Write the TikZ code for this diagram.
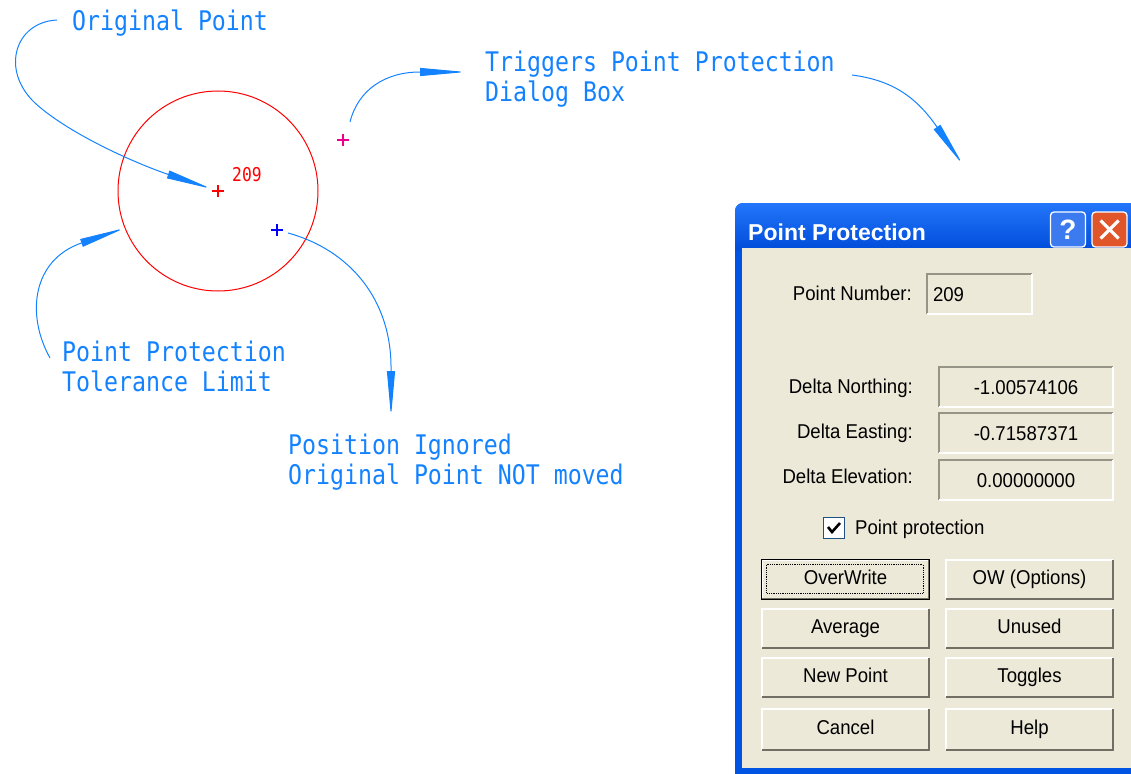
\documentclass[tikz,border=0pt]{standalone}
\usepackage{fontspec}
\usetikzlibrary{arrows.meta}
\newfontfamily\cadfont[FakeStretch=0.86]{DejaVu Sans Mono}
\newfontfamily\dlgfont[FakeStretch=0.93]{Liberation Sans}
\newfontfamily\titlefont{Liberation Sans}
\definecolor{cadblue}{RGB}{20,130,255}
\definecolor{dlgbg}{RGB}{236,233,216}
\definecolor{xpframe}{RGB}{0,84,227}
\definecolor{titletop}{RGB}{35,118,250}
\definecolor{titlebot}{RGB}{0,76,218}
\definecolor{helpblue}{RGB}{60,122,240}
\definecolor{closered}{RGB}{224,86,42}
\definecolor{fieldshadow}{RGB}{150,147,135}
\definecolor{btnshadow}{RGB}{113,111,100}
\definecolor{chkborder}{RGB}{28,81,128}

\begin{document}
\begin{tikzpicture}[x=1pt,y=-1pt,
  cadtext/.style={inner sep=0pt, text=cadblue, align=left,
    font=\cadfont\fontsize{27}{30}\selectfont},
  crossmark/.style={minimum size=12pt, inner sep=0pt,
    path picture={\draw[#1,line width=1.2pt]
      (path picture bounding box.north) -- (path picture bounding box.south)
      (path picture bounding box.west) -- (path picture bounding box.east);}},
  leader/.style={draw=cadblue, line width=1pt, -{Triangle[length=46pt,width=8pt]}},
  dlg/.style={inner sep=0pt, font=\dlgfont\fontsize{20}{24}\selectfont},
  field/.style={dlg, fill=dlgbg, minimum width=174pt, minimum height=40pt,
    text height=14pt, text depth=0pt},
  button/.style={dlg, fill=dlgbg, minimum width=167pt, minimum height=39pt,
    text height=14pt, text depth=4pt},
  capbtn/.style={draw=white, line width=1.3pt, rounded corners=3.5pt,
    minimum width=35pt, minimum height=35pt, inner sep=0pt}]
\useasboundingbox (0,0) rectangle (1131,773);

% drawing side
\node[crossmark=red] (orig) at (218,191) {};
\draw[red, line width=1pt] (orig) circle (100);
\node[inner sep=0pt, anchor=base west, text=red,
  font=\cadfont\fontsize{19}{22}\selectfont] (orig num) at (232,181) {209};
\node[crossmark=magenta] (trigger pt) at (343,140) {};
\node[crossmark=blue] (moved pt) at (277,230) {};

% two-line labels sit on their last baseline
\node[cadtext, anchor=base west] (orig label) at (72,31) {Original Point};
\node[cadtext, anchor=base west] (trig label) at (485,102) {Triggers Point Protection\\Dialog Box};
\node[cadtext, anchor=base west] (tol label) at (62,391) {Point Protection\\Tolerance Limit};
\node[cadtext, anchor=base west] (pos label) at (288,484) {Position Ignored\\Original Point NOT moved};

\coordinate (op start) at (57,20);
\coordinate (trig start) at (350,122);
\coordinate (trig tip) at (466,72);
\coordinate (dlg start) at (852,75);
\coordinate (dlg tip) at (963,165);
\coordinate (tol start) at (50,358);
\coordinate (tol tip) at (125,228);
\coordinate (pos start) at (288,233);
\coordinate (pos tip) at (391,417);

\draw[leader] (op start) .. controls (15,22) and (0,70) .. (35,103)
  .. controls (70,135) and (140,165) .. (orig);
\draw[leader] (trig start) .. controls (358,90) and (385,72) .. (420,72) -- (trig tip);
\draw[leader] (dlg start) .. controls (890,80) and (915,95) .. (dlg tip);
\draw[leader] (tol start) .. controls (26,315) and (32,260) .. (tol tip);
\draw[leader] (pos start) .. controls (350,250) and (392,300) .. (391,370) -- (pos tip);

% dialog window
\fill[xpframe, rounded corners=8pt] (735,790) -- (735,203) -- (1150,203) -- (1150,790) -- cycle;
\shade[top color=titletop, bottom color=titlebot] (735,250) [rounded corners=8pt]
  -- (735,203) -- (1150,203) [sharp corners] -- (1150,250) -- cycle;
\fill[dlgbg] (742,248) rectangle (1150,768);
\node[inner sep=0pt, anchor=base west, text=white,
  font=\titlefont\bfseries\fontsize{23}{26}\selectfont] (title) at (748,240) {Point Protection};
\node[capbtn, fill=helpblue, text=white,
  font=\titlefont\bfseries\fontsize{28}{30}\selectfont] (help btn) at (1068,229.5) {?};
\node[capbtn, fill=closered] (close btn) at (1109.5,229.5) {};
\draw[white, line width=3.2pt] ([shift={(-9,-9)}]close btn.center) -- ([shift={(9,9)}]close btn.center)
  ([shift={(-9,9)}]close btn.center) -- ([shift={(9,-9)}]close btn.center);

% fields
\node[dlg, anchor=base east] (num label) at (912,300) {Point Number:};
\node[field, minimum width=105pt, text width=93pt, align=left] (num box) at (979.5,294) {209};
\node[dlg, anchor=base east] (north label) at (913,393) {Delta Northing:};
\node[field] (north box) at (1026,387) {-1.00574106};
\node[dlg, anchor=base east] (east label) at (913,438) {Delta Easting:};
\node[field] (east box) at (1026,433) {-0.71587371};
\node[dlg, anchor=base east] (elev label) at (913,483) {Delta Elevation:};
\node[field] (elev box) at (1026,480) {0.00000000};
\foreach \f in {num box, north box, east box, elev box}{
  \draw[fieldshadow, line width=2pt] (\f.south west) |- (\f.north east);
  \draw[white, line width=1.5pt] (\f.south west) -| (\f.north east);
}

% check box
\node[draw=chkborder, fill=white, minimum size=21pt, inner sep=0pt] (chk) at (834,528) {};
\draw[line width=2.6pt] ([shift={(-6,-1)}]chk.center) -- ([shift={(-2,4)}]chk.center)
  -- ([shift={(6,-5)}]chk.center);
\node[dlg, anchor=base west] (chk label) at (855,534) {Point protection};

% buttons
\node[button] (overwrite) at (845.5,579.5) {OverWrite};
\node[button] (ow options) at (1029.5,579.5) {OW (Options)};
\node[button] (average) at (845.5,628.5) {Average};
\node[button] (unused) at (1029.5,628.5) {Unused};
\node[button] (new point) at (845.5,677.5) {New Point};
\node[button] (toggles) at (1029.5,677.5) {Toggles};
\node[button, minimum height=41pt] (cancel) at (845.5,729.5) {Cancel};
\node[button, minimum height=41pt] (help) at (1029.5,729.5) {Help};
\foreach \b in {overwrite, ow options, average, unused, new point, toggles, cancel, help}{
  \draw[white, line width=1.5pt] (\b.south west) |- (\b.north east);
  \draw[btnshadow, line width=2.5pt] (\b.south west) -| (\b.north east);
}
\draw[line width=1pt] (overwrite.south west) rectangle (overwrite.north east);
\draw[densely dotted, line width=0.8pt] ([shift={(5,5)}]overwrite.north west)
  rectangle ([shift={(-6,-6)}]overwrite.south east);
\end{tikzpicture}
\end{document}
